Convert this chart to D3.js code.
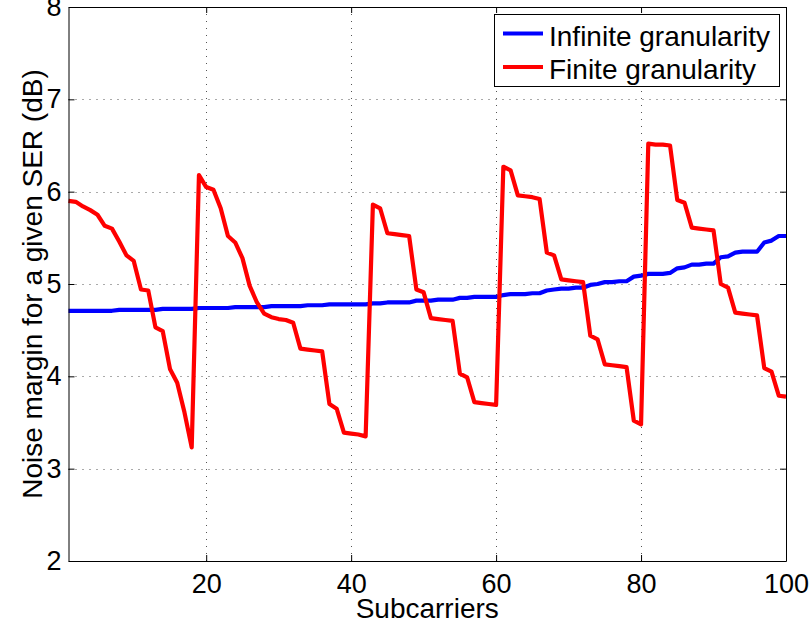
<!DOCTYPE html>
<html>
<head>
<meta charset="utf-8">
<script src="https://cdn.jsdelivr.net/npm/d3@7"></script>
<style>
body { margin: 0; background: #fff; }
text { font-family: "Liberation Sans", Arial, Helvetica, sans-serif; fill: #000; }
</style>
</head>
<body>
<script>
var w = 812;
var h = 629;

// subcarrier index 1..100
var subcarriers = d3.range(1, 101);

var infinite = [
    4.71, 4.71, 4.71, 4.71, 4.71, 4.71, 4.71, 4.72, 4.72, 4.72,
    4.72, 4.72, 4.72, 4.73, 4.73, 4.73, 4.73, 4.73, 4.74, 4.74,
    4.74, 4.74, 4.74, 4.75, 4.75, 4.75, 4.75, 4.75, 4.76, 4.76,
    4.76, 4.76, 4.76, 4.77, 4.77, 4.77, 4.78, 4.78, 4.78, 4.78,
    4.78, 4.78, 4.79, 4.79, 4.80, 4.80, 4.80, 4.80, 4.82, 4.82,
    4.82, 4.83, 4.83, 4.83, 4.85, 4.85, 4.86, 4.86, 4.86, 4.86,
    4.88, 4.89, 4.89, 4.89, 4.90, 4.90, 4.93, 4.94, 4.95, 4.95,
    4.96, 4.96, 4.99, 5.00, 5.02, 5.02, 5.03, 5.03, 5.08, 5.09,
    5.11, 5.11, 5.11, 5.12, 5.17, 5.18, 5.21, 5.21, 5.22, 5.22,
    5.29, 5.30, 5.34, 5.35, 5.35, 5.35, 5.45, 5.47, 5.52, 5.52
];

var finite = [
    5.90, 5.89, 5.84, 5.80, 5.75, 5.63, 5.60, 5.46, 5.31, 5.25,
    4.94, 4.93, 4.53, 4.49, 4.08, 3.93, 3.61, 3.23, 6.18, 6.05,
    6.02, 5.82, 5.52, 5.45, 5.28, 4.98, 4.80, 4.68, 4.64, 4.62,
    4.61, 4.58, 4.30, 4.29, 4.28, 4.27, 3.70, 3.65, 3.39, 3.38,
    3.37, 3.35, 5.86, 5.82, 5.55, 5.54, 5.53, 5.52, 4.94, 4.91,
    4.63, 4.62, 4.61, 4.60, 4.03, 3.99, 3.72, 3.71, 3.70, 3.69,
    6.27, 6.23, 5.96, 5.95, 5.94, 5.92, 5.34, 5.31, 5.05, 5.04,
    5.03, 5.02, 4.44, 4.40, 4.13, 4.12, 4.11, 4.10, 3.52, 3.48,
    6.52, 6.51, 6.51, 6.50, 5.91, 5.88, 5.61, 5.60, 5.59, 5.58,
    5.00, 4.96, 4.69, 4.68, 4.67, 4.66, 4.09, 4.05, 3.79, 3.78
];

var xTicks = [20, 40, 60, 80, 100];
var yTicks = [2, 3, 4, 5, 6, 7, 8];
var seriesNames = ["Infinite granularity", "Finite granularity"];
var seriesColors = ["#0000ff", "#ff0000"];

var padL = 68.5, padR = 786, padT = 7, padB = 561;

var xScale = d3.scaleLinear().domain([1, 100]).range([padL, padR]);
var yScale = d3.scaleLinear().domain([2, 8]).range([padB, padT]);

var svg = d3.select("body")
    .append("svg")
    .attr("width", w)
    .attr("height", h);

// dotted grid
svg.append("g")
    .selectAll("line")
    .data(xTicks.filter(function(d) { return d < 100; }))
    .enter()
    .append("line")
    .attr("x1", function(d) { return Math.round(xScale(d)) + 0.5; })
    .attr("x2", function(d) { return Math.round(xScale(d)) + 0.5; })
    .attr("y1", padT)
    .attr("y2", padB)
    .attr("stroke", "#555")
    .attr("stroke-width", 1)
    .attr("stroke-dasharray", "1,6");

svg.append("g")
    .selectAll("line")
    .data(yTicks.filter(function(d) { return d > 2 && d < 8; }))
    .enter()
    .append("line")
    .attr("y1", function(d) { return Math.round(yScale(d)) + 0.5; })
    .attr("y2", function(d) { return Math.round(yScale(d)) + 0.5; })
    .attr("x1", padL)
    .attr("x2", padR)
    .attr("stroke", "#555")
    .attr("stroke-width", 1)
    .attr("stroke-dasharray", "1,6");

// lines
var line = d3.line()
    .x(function(d, i) { return xScale(subcarriers[i]); })
    .y(function(d) { return yScale(d); });

[infinite, finite].forEach(function(s, k) {
    svg.append("path")
        .datum(s)
        .attr("fill", "none")
        .attr("stroke", seriesColors[k])
        .attr("stroke-width", 4.2)
        .attr("stroke-linejoin", "round")
        .attr("d", line);
});

// axes
function styleAxis(g) {
    g.select(".domain").attr("stroke", "#000").attr("stroke-width", 1);
    g.selectAll(".tick line").attr("stroke", "#000");
    g.selectAll(".tick text")
        .attr("font-family", "'Liberation Sans', Arial, Helvetica, sans-serif")
        .attr("font-size", 27)
        .attr("fill", "#000");
}

var xAxis = d3.axisBottom(xScale).tickValues(xTicks).tickFormat(d3.format("d"))
    .tickSizeInner(-6).tickSizeOuter(0).tickPadding(13);
svg.append("g")
    .attr("transform", "translate(0," + padB + ")")
    .call(xAxis)
    .call(styleAxis);

var xAxisTop = d3.axisTop(xScale).tickValues(xTicks).tickSizeInner(-6).tickSizeOuter(0).tickFormat("");
svg.append("g")
    .attr("transform", "translate(0," + padT + ")")
    .call(xAxisTop)
    .call(styleAxis);

var yAxis = d3.axisLeft(yScale).tickValues(yTicks).tickFormat(d3.format("d"))
    .tickSizeInner(-6).tickSizeOuter(0).tickPadding(7);
svg.append("g")
    .attr("transform", "translate(" + padL + ",0)")
    .call(yAxis)
    .call(styleAxis);

var yAxisRight = d3.axisRight(yScale).tickValues(yTicks).tickSizeInner(-6).tickSizeOuter(0).tickFormat("");
svg.append("g")
    .attr("transform", "translate(" + padR + ",0)")
    .call(yAxisRight)
    .call(styleAxis);

// axis titles
svg.append("text")
    .attr("text-anchor", "middle")
    .attr("x", (padL + padR) / 2)
    .attr("y", 618)
    .attr("font-size", 28)
    .text("Subcarriers");

svg.append("text")
    .attr("text-anchor", "middle")
    .attr("transform", "rotate(-90)")
    .attr("x", -(padT + padB) / 2)
    .attr("y", 41.5)
    .attr("font-size", 28)
    .text("Noise margin for a given SER (dB)");

// legend
var legend = svg.append("g");
legend.append("rect")
    .attr("x", 494.5)
    .attr("y", 14.5)
    .attr("width", 285)
    .attr("height", 72)
    .attr("fill", "#fff")
    .attr("stroke", "#000")
    .attr("stroke-width", 1);

seriesNames.forEach(function(name, k) {
    var cy = 33.5 + k * 33.5;
    legend.append("line")
        .attr("x1", 503)
        .attr("x2", 543)
        .attr("y1", cy)
        .attr("y2", cy)
        .attr("stroke", seriesColors[k])
        .attr("stroke-width", 4);
    legend.append("text")
        .attr("x", 549)
        .attr("y", cy + 12)
        .attr("font-size", 28)
        .text(name);
});
</script>
</body>
</html>
